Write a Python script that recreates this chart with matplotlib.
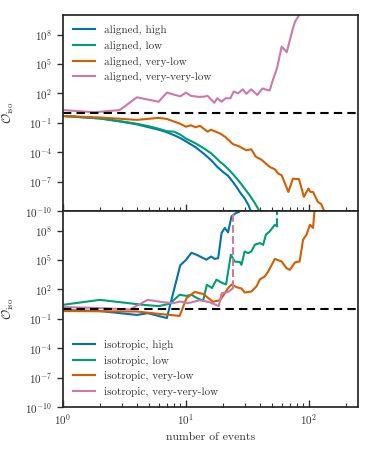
import numpy as np
import matplotlib
matplotlib.use("Agg")
import matplotlib.pyplot as plt
from matplotlib.ticker import NullLocator, LogLocator

# colorblind palette
colors = ["#0072B2", "#009E73", "#D55E00", "#CC79A7"]

# --- aligned sources (top panel) ---
al_high_n = [1, 2, 3, 4, 5, 6, 7, 8, 9, 10, 12, 14, 16, 18, 20, 22, 24, 26, 28, 30, 32, 34]
al_high_v = [0.5, 0.28, 0.13, 0.07, 0.035, 0.02, 0.011, 5.6e-3, 2.8e-3, 1.3e-3, 3.2e-4, 7e-5,
             1.6e-5, 3.2e-6, 1e-6, 4e-7, 1e-7, 2.5e-8, 6e-9, 2e-9, 5e-10, 8e-11]

al_low_n = [1, 2, 3, 4, 5, 6, 7, 8, 9, 10, 12, 14, 16, 18, 19, 20, 22, 24, 26, 28, 30, 33, 36, 40]
al_low_v = [0.5, 0.28, 0.14, 0.08, 0.045, 0.025, 0.014, 0.0126, 6.3e-3, 2.5e-3, 8e-4, 2.5e-4,
            8e-5, 2e-5, 1e-5, 6.3e-6, 2e-6, 6.3e-7, 2e-7, 6.3e-8, 2e-8, 4e-9, 8e-10, 8e-11]

al_vlow_n = [1, 2, 4, 6, 7, 9, 10, 11, 12, 13, 15, 16, 19, 21, 24, 27, 31, 34, 37, 41, 48, 53,
             56, 60, 68, 74, 83, 91, 99, 103, 108, 118, 126, 134, 140]
al_vlow_v = [0.5, 0.35, 0.2, 0.32, 0.25, 0.08, 0.04, 0.056, 0.035, 0.05, 0.0126, 0.02, 8e-3,
             3.5e-3, 7e-4, 4e-4, 1.6e-4, 2e-4, 3.5e-5, 1.8e-5, 3.2e-6, 1.8e-6, 7e-7, 4.5e-7,
             9e-9, 2e-7, 1.8e-7, 2.8e-9, 2e-8, 9e-9, 9e-9, 9e-10, 5e-10, 8e-11, 1e-11]

al_vvlow_n = [1, 1.8, 2.9, 4, 6, 7, 9, 10, 11, 12.6, 14, 15, 17, 18, 19.5, 21, 23, 24.5, 26.5,
              29, 31, 34, 38, 42, 46, 48, 51, 55, 60, 66, 74, 77, 82, 90]
al_vvlow_v = [2.0, 1.2, 2.0, 40, 14, 120, 50, 120, 56, 45, 46, 57, 11, 32, 14, 32, 32, 160, 100,
              260, 90, 260, 70, 320, 220, 200, 2500, 3.6e4, 6e6, 1.6e6, 4e8, 2e9, 7e9, 1e11]

# --- isotropic sources (bottom panel) ---
iso_high_n = [1, 2, 4, 4.9, 7, 9, 10, 11.1, 12.2, 14.7, 16, 17.2, 18.3, 19.5, 20.7, 22, 23.5,
              25.5, 27, 29]
iso_high_v = [0.8, 0.63, 0.25, 0.38, 0.12, 3e4, 1e5, 5.6e5, 3.5e5, 1.1e5, 2.3e5, 1.3e5, 1.6e5,
              5.8e7, 1.9e8, 6.8e7, 2.9e9, 6.3e9, 8e9, 1e11]

iso_low_n = [1, 2, 4.5, 6, 7.4, 8.9, 10.1, 11.1, 12.2, 13.8, 14.8, 16.3, 17.7, 19.5, 21.2, 23.2,
             25, 27.5, 28.3, 30, 32, 34, 36.4, 40, 42.4, 44.7, 48, 52.8, 55]
iso_low_v = [2.7, 8.7, 2.7, 2.0, 3.5, 29, 22, 29, 14, 7, 300, 140, 1e3, 500, 320, 3.5e5, 7e4,
             6.3e4, 3.2e4, 7.6e5, 5.2e5, 7.6e5, 3.7e6, 5.5e6, 3.5e6, 4e7, 8.5e7, 4e8, 2.8e8]

iso_vlow_n = [1, 4, 6.1, 8.9, 10.1, 11.8, 13.8, 16.6, 18.9, 20.7, 22, 23.5, 25.8, 28.3, 30, 34,
              37.4, 40, 43.8, 46.7, 52.8, 60, 65.7, 70, 77, 84, 89.6, 95.6, 102, 108, 111, 115]
iso_vlow_v = [0.63, 0.56, 0.32, 0.2, 12.6, 56, 35, 5.6, 8, 40, 140, 320, 170, 126, 49, 62, 200,
              1.1e3, 2.1e3, 7e3, 1.3e5, 7.2e4, 1.5e4, 1e4, 5.8e4, 7.2e4, 1.2e7, 4e7, 4e8,
              1.9e8, 1.3e10, 1e11]

iso_vvlow_n = [1, 2, 3.5, 4.9, 6.5, 7.9, 8.9, 10.4, 13, 15.6, 18.5, 19.5, 22, 24]
iso_vvlow_v = [1.6, 1.26, 0.9, 8.7, 5, 4, 5.9, 4, 8, 5, 2, 40, 56, 126]

top_labels = ["aligned, high", "aligned, low", "aligned, very-low", "aligned, very-very-low"]
bot_labels = ["isotropic, high", "isotropic, low", "isotropic, very-low",
              "isotropic, very-very-low"]

DIVERGED = 1e12   # value used for the dashed jump to "infinity"
THRESHOLD = 1.0

plt.rcParams.update({
    "font.family": "serif",
    "font.serif": ["cmr10", "DejaVu Serif"],
    "mathtext.fontset": "cm",
    "axes.formatter.use_mathtext": True,
    "axes.unicode_minus": False,
    "text.color": "0.2",
    "axes.labelcolor": "0.2",
    "xtick.color": "0.2",
    "ytick.color": "0.2",
    "axes.edgecolor": "0.15",
    "axes.linewidth": 1.25,
})

fig = plt.figure(figsize=(3.74, 4.53), dpi=100)
ax_top = fig.add_axes([0.168, 0.534, 0.789, 0.433])
ax_bot = fig.add_axes([0.168, 0.1015, 0.789, 0.4325], sharex=ax_top)

top_series = [(al_high_n, al_high_v), (al_low_n, al_low_v),
              (al_vlow_n, al_vlow_v), (al_vvlow_n, al_vvlow_v)]
for (n, v), c, lab in zip(top_series, colors, top_labels):
    ax_top.plot(n, v, color=c, lw=1.5, label=lab)

bot_series = [(iso_high_n, iso_high_v), (iso_low_n, iso_low_v),
              (iso_vlow_n, iso_vlow_v), (iso_vvlow_n, iso_vvlow_v)]
for (n, v), c, lab in zip(bot_series, colors, bot_labels):
    ax_bot.plot(n, v, color=c, lw=1.5, label=lab)

# curves that blow up: dashed jump to the top
for n, v, c in [(iso_low_n, iso_low_v, colors[1]), (iso_vvlow_n, iso_vvlow_v, colors[3])]:
    ax_bot.plot([n[-1], n[-1]], [v[-1], DIVERGED], color=c, lw=1.5, ls="--")

for ax in (ax_top, ax_bot):
    ax.axhline(THRESHOLD, color="black", lw=1.5, ls="--", dashes=(4, 2.5))
    ax.set_xscale("log")
    ax.set_yscale("log")
    ax.set_xlim(1, 250)
    ax.set_ylim(1e-10, 1e10)
    ax.set_yticks([1e-10, 1e-7, 1e-4, 1e-1, 1e2, 1e5, 1e8])
    ax.yaxis.set_minor_locator(NullLocator())
    ax.xaxis.set_minor_locator(LogLocator(subs=np.arange(2, 10)))
    ax.tick_params(axis="x", which="major", direction="in", length=5, width=1, labelsize=8)
    ax.tick_params(axis="x", which="minor", direction="in", length=3, width=0.8)
    ax.tick_params(axis="y", which="major", direction="out", length=4, width=1, labelsize=8)
    ax.set_ylabel(r"$\mathcal{O}_\mathrm{iso}$", fontsize=9)
    ax.yaxis.set_label_coords(-0.16, 0.5)

ax_top.tick_params(axis="x", labelbottom=False)
ax_bot.set_xlabel("number of events", fontsize=8.5)

ax_top.legend(loc="upper left", frameon=False, fontsize=8)
ax_bot.legend(loc="lower left", frameon=False, fontsize=8)

fig.savefig("out.png", dpi=100)
